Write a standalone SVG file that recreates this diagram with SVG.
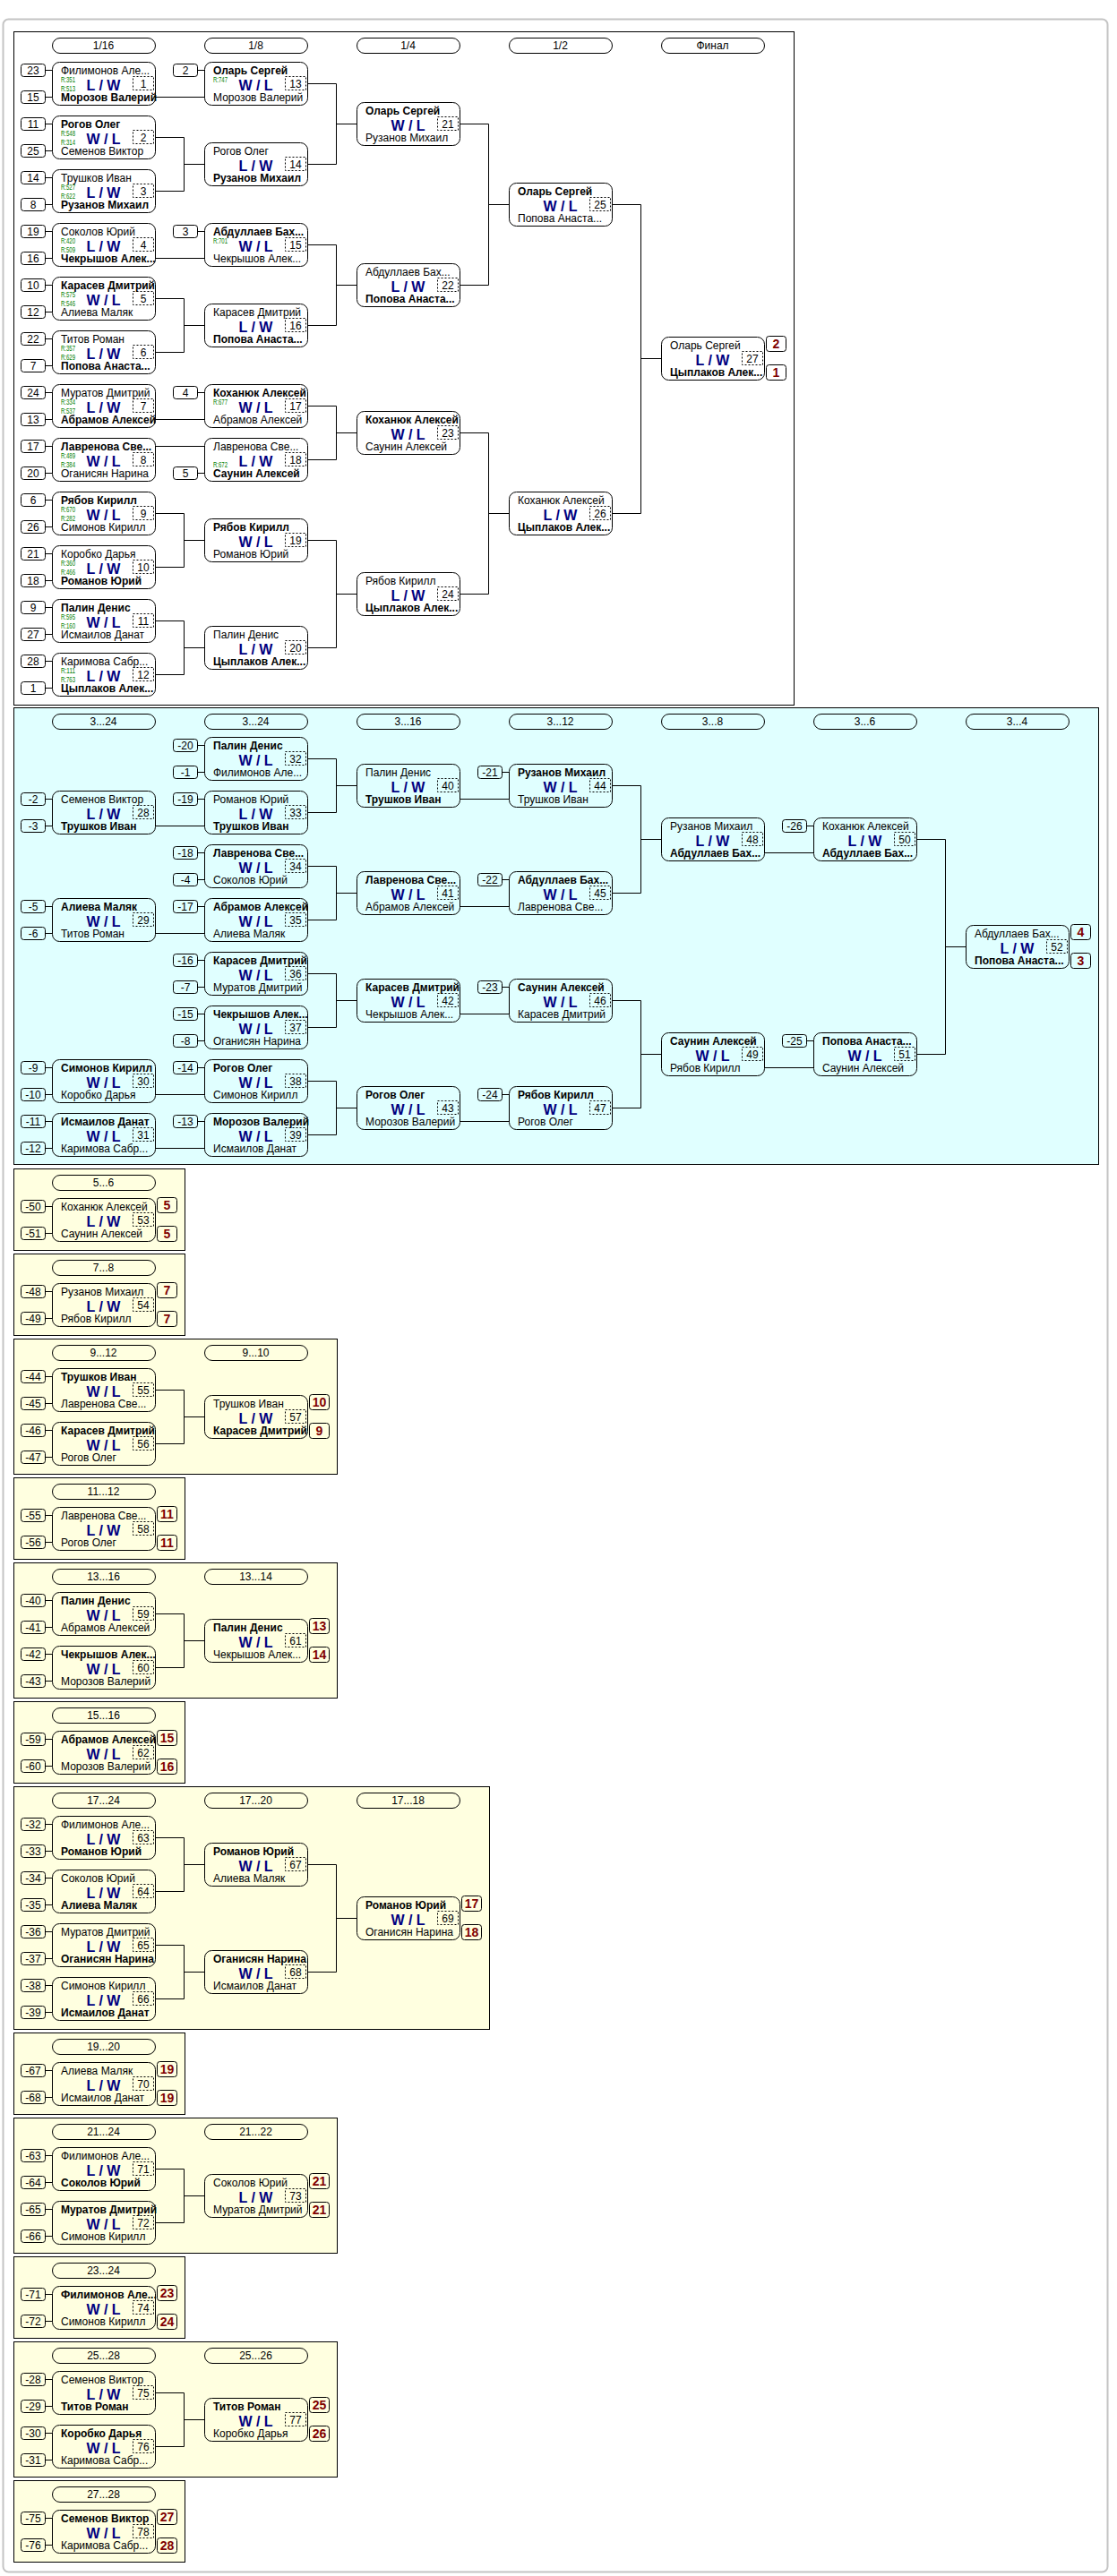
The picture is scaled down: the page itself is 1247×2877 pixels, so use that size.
<svg xmlns="http://www.w3.org/2000/svg" width="1247" height="2877" viewBox="0 0 1247 2877">
<style>
text{font-family:"Liberation Sans",Arial,sans-serif;font-size:12px;fill:#000}
.b{font-weight:bold}
.c{text-anchor:middle}
.wl{font-size:16px;font-weight:bold;fill:#000080;text-anchor:middle}
.r{font-size:9.5px;fill:#008000}
.p{font-size:14px;font-weight:bold;fill:#800000;text-anchor:middle}
.ln{fill:none;stroke:#000;stroke-width:1}
</style>
<defs>
<rect id="box" x="0.5" y="0.5" width="115" height="48" rx="8" fill="none" stroke="#000"/>
<rect id="db" x="90.5" y="16.5" width="23" height="15" fill="none" stroke="#000" stroke-dasharray="2,2"/>
<g id="sd"><rect x="-34.5" y="2.5" width="27" height="14" rx="3" fill="none" stroke="#000"/><path d="M-7.5 9.5H0.5" stroke="#000"/></g>
<rect id="pl" x="117.5" y="-0.5" width="22" height="17" rx="3" fill="none" stroke="#000"/>
<rect id="pill" x="0.5" y="0.5" width="115" height="17" rx="8.5" fill="none" stroke="#000"/>
</defs>
<rect width="1247" height="2877" fill="#fff"/>
<rect x="3.5" y="21.5" width="1233" height="2851" rx="6" fill="#fff" stroke="#c4c4c4" stroke-width="2"/>
<g id="sections">
<rect x="15.5" y="35.5" width="871" height="752" fill="#fff" stroke="#000"/>
<rect x="15.5" y="790.5" width="1211" height="510" fill="#E0FFFF" stroke="#000"/>
<rect x="15.5" y="1305.5" width="191" height="91" fill="#FFFFE0" stroke="#000"/>
<rect x="15.5" y="1400.5" width="191" height="91" fill="#FFFFE0" stroke="#000"/>
<rect x="15.5" y="1495.5" width="361" height="151" fill="#FFFFE0" stroke="#000"/>
<rect x="15.5" y="1650.5" width="191" height="91" fill="#FFFFE0" stroke="#000"/>
<rect x="15.5" y="1745.5" width="361" height="151" fill="#FFFFE0" stroke="#000"/>
<rect x="15.5" y="1900.5" width="191" height="91" fill="#FFFFE0" stroke="#000"/>
<rect x="15.5" y="1995.5" width="531" height="271" fill="#FFFFE0" stroke="#000"/>
<rect x="15.5" y="2270.5" width="191" height="91" fill="#FFFFE0" stroke="#000"/>
<rect x="15.5" y="2365.5" width="361" height="151" fill="#FFFFE0" stroke="#000"/>
<rect x="15.5" y="2520.5" width="191" height="91" fill="#FFFFE0" stroke="#000"/>
<rect x="15.5" y="2615.5" width="361" height="151" fill="#FFFFE0" stroke="#000"/>
<rect x="15.5" y="2770.5" width="191" height="91" fill="#FFFFE0" stroke="#000"/>
</g>
<g id="headers">
<use href="#pill" x="58" y="42"/><text class="c" x="115.5" y="55">1/16</text>
<use href="#pill" x="228" y="42"/><text class="c" x="285.5" y="55">1/8</text>
<use href="#pill" x="398" y="42"/><text class="c" x="455.5" y="55">1/4</text>
<use href="#pill" x="568" y="42"/><text class="c" x="625.5" y="55">1/2</text>
<use href="#pill" x="738" y="42"/><text class="c" x="795.5" y="55">Финал</text>
<use href="#pill" x="58" y="797"/><text class="c" x="115.5" y="810">3...24</text>
<use href="#pill" x="228" y="797"/><text class="c" x="285.5" y="810">3...24</text>
<use href="#pill" x="398" y="797"/><text class="c" x="455.5" y="810">3...16</text>
<use href="#pill" x="568" y="797"/><text class="c" x="625.5" y="810">3...12</text>
<use href="#pill" x="738" y="797"/><text class="c" x="795.5" y="810">3...8</text>
<use href="#pill" x="908" y="797"/><text class="c" x="965.5" y="810">3...6</text>
<use href="#pill" x="1078" y="797"/><text class="c" x="1135.5" y="810">3...4</text>
<use href="#pill" x="58" y="1312"/><text class="c" x="115.5" y="1325">5...6</text>
<use href="#pill" x="58" y="1407"/><text class="c" x="115.5" y="1420">7...8</text>
<use href="#pill" x="58" y="1502"/><text class="c" x="115.5" y="1515">9...12</text>
<use href="#pill" x="228" y="1502"/><text class="c" x="285.5" y="1515">9...10</text>
<use href="#pill" x="58" y="1657"/><text class="c" x="115.5" y="1670">11...12</text>
<use href="#pill" x="58" y="1752"/><text class="c" x="115.5" y="1765">13...16</text>
<use href="#pill" x="228" y="1752"/><text class="c" x="285.5" y="1765">13...14</text>
<use href="#pill" x="58" y="1907"/><text class="c" x="115.5" y="1920">15...16</text>
<use href="#pill" x="58" y="2002"/><text class="c" x="115.5" y="2015">17...24</text>
<use href="#pill" x="228" y="2002"/><text class="c" x="285.5" y="2015">17...20</text>
<use href="#pill" x="398" y="2002"/><text class="c" x="455.5" y="2015">17...18</text>
<use href="#pill" x="58" y="2277"/><text class="c" x="115.5" y="2290">19...20</text>
<use href="#pill" x="58" y="2372"/><text class="c" x="115.5" y="2385">21...24</text>
<use href="#pill" x="228" y="2372"/><text class="c" x="285.5" y="2385">21...22</text>
<use href="#pill" x="58" y="2527"/><text class="c" x="115.5" y="2540">23...24</text>
<use href="#pill" x="58" y="2622"/><text class="c" x="115.5" y="2635">25...28</text>
<use href="#pill" x="228" y="2622"/><text class="c" x="285.5" y="2635">25...26</text>
<use href="#pill" x="58" y="2777"/><text class="c" x="115.5" y="2790">27...28</text>
</g>
<g id="connectors" class="ln">
<path d="M173.5 108.5H228.5"/>
<path d="M173.5 153.5H205.5V213.5H173.5M205.5 183.5H228.5"/>
<path d="M173.5 288.5H228.5"/>
<path d="M173.5 333.5H205.5V393.5H173.5M205.5 363.5H228.5"/>
<path d="M173.5 468.5H228.5"/>
<path d="M173.5 498.5H228.5"/>
<path d="M173.5 573.5H205.5V633.5H173.5M205.5 603.5H228.5"/>
<path d="M173.5 693.5H205.5V753.5H173.5M205.5 723.5H228.5"/>
<path d="M343.5 93.5H375.5V183.5H343.5M375.5 138.5H398.5"/>
<path d="M343.5 273.5H375.5V363.5H343.5M375.5 318.5H398.5"/>
<path d="M343.5 453.5H375.5V513.5H343.5M375.5 483.5H398.5"/>
<path d="M343.5 603.5H375.5V723.5H343.5M375.5 663.5H398.5"/>
<path d="M513.5 138.5H545.5V318.5H513.5M545.5 228.5H568.5"/>
<path d="M513.5 483.5H545.5V663.5H513.5M545.5 573.5H568.5"/>
<path d="M683.5 228.5H715.5V573.5H683.5M715.5 400.5H738.5"/>
<path d="M173.5 922.5H228.5"/>
<path d="M173.5 1042.5H228.5"/>
<path d="M173.5 1222.5H228.5"/>
<path d="M173.5 1282.5H228.5"/>
<path d="M343.5 847.5H375.5V907.5H343.5M375.5 877.5H398.5"/>
<path d="M343.5 967.5H375.5V1027.5H343.5M375.5 997.5H398.5"/>
<path d="M343.5 1087.5H375.5V1147.5H343.5M375.5 1117.5H398.5"/>
<path d="M343.5 1207.5H375.5V1267.5H343.5M375.5 1237.5H398.5"/>
<path d="M513.5 892.5H568.5"/>
<path d="M513.5 1012.5H568.5"/>
<path d="M513.5 1132.5H568.5"/>
<path d="M513.5 1252.5H568.5"/>
<path d="M683.5 877.5H715.5V997.5H683.5M715.5 937.5H738.5"/>
<path d="M683.5 1117.5H715.5V1237.5H683.5M715.5 1177.5H738.5"/>
<path d="M853.5 952.5H908.5"/>
<path d="M853.5 1192.5H908.5"/>
<path d="M1023.5 937.5H1055.5V1177.5H1023.5M1055.5 1057.5H1078.5"/>
<path d="M173.5 1552.5H205.5V1612.5H173.5M205.5 1582.5H228.5"/>
<path d="M173.5 1802.5H205.5V1862.5H173.5M205.5 1832.5H228.5"/>
<path d="M173.5 2052.5H205.5V2112.5H173.5M205.5 2082.5H228.5"/>
<path d="M173.5 2172.5H205.5V2232.5H173.5M205.5 2202.5H228.5"/>
<path d="M343.5 2082.5H375.5V2202.5H343.5M375.5 2142.5H398.5"/>
<path d="M173.5 2422.5H205.5V2482.5H173.5M205.5 2452.5H228.5"/>
<path d="M173.5 2672.5H205.5V2732.5H173.5M205.5 2702.5H228.5"/>
</g>
<g id="nodes">
<g id="m1" transform="translate(58,69)"><use href="#box"/><use href="#db"/><use href="#sd"/><use href="#sd" y="30"/><text class="c" x="-21" y="14">23</text><text class="c" x="-21" y="44">15</text><text x="10" y="14">Филимонов Але...</text><text class="b" x="10" y="44">Морозов Валерий</text><text class="r" x="10" y="23" textLength="16" lengthAdjust="spacingAndGlyphs">R:351</text><text class="r" x="10" y="32.5" textLength="16" lengthAdjust="spacingAndGlyphs">R:513</text><text class="wl" x="57.5" y="31.5">L / W</text><text class="c" x="102" y="28.5">1</text></g>
<g id="m2" transform="translate(58,129)"><use href="#box"/><use href="#db"/><use href="#sd"/><use href="#sd" y="30"/><text class="c" x="-21" y="14">11</text><text class="c" x="-21" y="44">25</text><text class="b" x="10" y="14">Рогов Олег</text><text x="10" y="44">Семенов Виктор</text><text class="r" x="10" y="23" textLength="16" lengthAdjust="spacingAndGlyphs">R:548</text><text class="r" x="10" y="32.5" textLength="16" lengthAdjust="spacingAndGlyphs">R:314</text><text class="wl" x="57.5" y="31.5">W / L</text><text class="c" x="102" y="28.5">2</text></g>
<g id="m3" transform="translate(58,189)"><use href="#box"/><use href="#db"/><use href="#sd"/><use href="#sd" y="30"/><text class="c" x="-21" y="14">14</text><text class="c" x="-21" y="44">8</text><text x="10" y="14">Трушков Иван</text><text class="b" x="10" y="44">Рузанов Михаил</text><text class="r" x="10" y="23" textLength="16" lengthAdjust="spacingAndGlyphs">R:527</text><text class="r" x="10" y="32.5" textLength="16" lengthAdjust="spacingAndGlyphs">R:622</text><text class="wl" x="57.5" y="31.5">L / W</text><text class="c" x="102" y="28.5">3</text></g>
<g id="m4" transform="translate(58,249)"><use href="#box"/><use href="#db"/><use href="#sd"/><use href="#sd" y="30"/><text class="c" x="-21" y="14">19</text><text class="c" x="-21" y="44">16</text><text x="10" y="14">Соколов Юрий</text><text class="b" x="10" y="44">Чекрышов Алек...</text><text class="r" x="10" y="23" textLength="16" lengthAdjust="spacingAndGlyphs">R:420</text><text class="r" x="10" y="32.5" textLength="16" lengthAdjust="spacingAndGlyphs">R:509</text><text class="wl" x="57.5" y="31.5">L / W</text><text class="c" x="102" y="28.5">4</text></g>
<g id="m5" transform="translate(58,309)"><use href="#box"/><use href="#db"/><use href="#sd"/><use href="#sd" y="30"/><text class="c" x="-21" y="14">10</text><text class="c" x="-21" y="44">12</text><text class="b" x="10" y="14">Карасев Дмитрий</text><text x="10" y="44">Алиева Маляк</text><text class="r" x="10" y="23" textLength="16" lengthAdjust="spacingAndGlyphs">R:575</text><text class="r" x="10" y="32.5" textLength="16" lengthAdjust="spacingAndGlyphs">R:546</text><text class="wl" x="57.5" y="31.5">W / L</text><text class="c" x="102" y="28.5">5</text></g>
<g id="m6" transform="translate(58,369)"><use href="#box"/><use href="#db"/><use href="#sd"/><use href="#sd" y="30"/><text class="c" x="-21" y="14">22</text><text class="c" x="-21" y="44">7</text><text x="10" y="14">Титов Роман</text><text class="b" x="10" y="44">Попова Анаста...</text><text class="r" x="10" y="23" textLength="16" lengthAdjust="spacingAndGlyphs">R:357</text><text class="r" x="10" y="32.5" textLength="16" lengthAdjust="spacingAndGlyphs">R:629</text><text class="wl" x="57.5" y="31.5">L / W</text><text class="c" x="102" y="28.5">6</text></g>
<g id="m7" transform="translate(58,429)"><use href="#box"/><use href="#db"/><use href="#sd"/><use href="#sd" y="30"/><text class="c" x="-21" y="14">24</text><text class="c" x="-21" y="44">13</text><text x="10" y="14">Муратов Дмитрий</text><text class="b" x="10" y="44">Абрамов Алексей</text><text class="r" x="10" y="23" textLength="16" lengthAdjust="spacingAndGlyphs">R:334</text><text class="r" x="10" y="32.5" textLength="16" lengthAdjust="spacingAndGlyphs">R:537</text><text class="wl" x="57.5" y="31.5">L / W</text><text class="c" x="102" y="28.5">7</text></g>
<g id="m8" transform="translate(58,489)"><use href="#box"/><use href="#db"/><use href="#sd"/><use href="#sd" y="30"/><text class="c" x="-21" y="14">17</text><text class="c" x="-21" y="44">20</text><text class="b" x="10" y="14">Лавренова Све...</text><text x="10" y="44">Оганисян Нарина</text><text class="r" x="10" y="23" textLength="16" lengthAdjust="spacingAndGlyphs">R:489</text><text class="r" x="10" y="32.5" textLength="16" lengthAdjust="spacingAndGlyphs">R:384</text><text class="wl" x="57.5" y="31.5">W / L</text><text class="c" x="102" y="28.5">8</text></g>
<g id="m9" transform="translate(58,549)"><use href="#box"/><use href="#db"/><use href="#sd"/><use href="#sd" y="30"/><text class="c" x="-21" y="14">6</text><text class="c" x="-21" y="44">26</text><text class="b" x="10" y="14">Рябов Кирилл</text><text x="10" y="44">Симонов Кирилл</text><text class="r" x="10" y="23" textLength="16" lengthAdjust="spacingAndGlyphs">R:670</text><text class="r" x="10" y="32.5" textLength="16" lengthAdjust="spacingAndGlyphs">R:282</text><text class="wl" x="57.5" y="31.5">W / L</text><text class="c" x="102" y="28.5">9</text></g>
<g id="m10" transform="translate(58,609)"><use href="#box"/><use href="#db"/><use href="#sd"/><use href="#sd" y="30"/><text class="c" x="-21" y="14">21</text><text class="c" x="-21" y="44">18</text><text x="10" y="14">Коробко Дарья</text><text class="b" x="10" y="44">Романов Юрий</text><text class="r" x="10" y="23" textLength="16" lengthAdjust="spacingAndGlyphs">R:360</text><text class="r" x="10" y="32.5" textLength="16" lengthAdjust="spacingAndGlyphs">R:466</text><text class="wl" x="57.5" y="31.5">L / W</text><text class="c" x="102" y="28.5">10</text></g>
<g id="m11" transform="translate(58,669)"><use href="#box"/><use href="#db"/><use href="#sd"/><use href="#sd" y="30"/><text class="c" x="-21" y="14">9</text><text class="c" x="-21" y="44">27</text><text class="b" x="10" y="14">Палин Денис</text><text x="10" y="44">Исмаилов Данат</text><text class="r" x="10" y="23" textLength="16" lengthAdjust="spacingAndGlyphs">R:595</text><text class="r" x="10" y="32.5" textLength="16" lengthAdjust="spacingAndGlyphs">R:160</text><text class="wl" x="57.5" y="31.5">W / L</text><text class="c" x="102" y="28.5">11</text></g>
<g id="m12" transform="translate(58,729)"><use href="#box"/><use href="#db"/><use href="#sd"/><use href="#sd" y="30"/><text class="c" x="-21" y="14">28</text><text class="c" x="-21" y="44">1</text><text x="10" y="14">Каримова Сабр...</text><text class="b" x="10" y="44">Цыплаков Алек...</text><text class="r" x="10" y="23" textLength="16" lengthAdjust="spacingAndGlyphs">R:111</text><text class="r" x="10" y="32.5" textLength="16" lengthAdjust="spacingAndGlyphs">R:763</text><text class="wl" x="57.5" y="31.5">L / W</text><text class="c" x="102" y="28.5">12</text></g>
<g id="m13" transform="translate(228,69)"><use href="#box"/><use href="#db"/><use href="#sd"/><text class="c" x="-21" y="14">2</text><text class="b" x="10" y="14">Оларь Сергей</text><text x="10" y="44">Морозов Валерий</text><text class="r" x="10" y="23" textLength="16" lengthAdjust="spacingAndGlyphs">R:747</text><text class="wl" x="57.5" y="31.5">W / L</text><text class="c" x="102" y="28.5">13</text></g>
<g id="m14" transform="translate(228,159)"><use href="#box"/><use href="#db"/><text x="10" y="14">Рогов Олег</text><text class="b" x="10" y="44">Рузанов Михаил</text><text class="wl" x="57.5" y="31.5">L / W</text><text class="c" x="102" y="28.5">14</text></g>
<g id="m15" transform="translate(228,249)"><use href="#box"/><use href="#db"/><use href="#sd"/><text class="c" x="-21" y="14">3</text><text class="b" x="10" y="14">Абдуллаев Бах...</text><text x="10" y="44">Чекрышов Алек...</text><text class="r" x="10" y="23" textLength="16" lengthAdjust="spacingAndGlyphs">R:701</text><text class="wl" x="57.5" y="31.5">W / L</text><text class="c" x="102" y="28.5">15</text></g>
<g id="m16" transform="translate(228,339)"><use href="#box"/><use href="#db"/><text x="10" y="14">Карасев Дмитрий</text><text class="b" x="10" y="44">Попова Анаста...</text><text class="wl" x="57.5" y="31.5">L / W</text><text class="c" x="102" y="28.5">16</text></g>
<g id="m17" transform="translate(228,429)"><use href="#box"/><use href="#db"/><use href="#sd"/><text class="c" x="-21" y="14">4</text><text class="b" x="10" y="14">Коханюк Алексей</text><text x="10" y="44">Абрамов Алексей</text><text class="r" x="10" y="23" textLength="16" lengthAdjust="spacingAndGlyphs">R:677</text><text class="wl" x="57.5" y="31.5">W / L</text><text class="c" x="102" y="28.5">17</text></g>
<g id="m18" transform="translate(228,489)"><use href="#box"/><use href="#db"/><use href="#sd" y="30"/><text class="c" x="-21" y="44">5</text><text x="10" y="14">Лавренова Све...</text><text class="b" x="10" y="44">Саунин Алексей</text><text class="r" x="10" y="32.5" textLength="16" lengthAdjust="spacingAndGlyphs">R:672</text><text class="wl" x="57.5" y="31.5">L / W</text><text class="c" x="102" y="28.5">18</text></g>
<g id="m19" transform="translate(228,579)"><use href="#box"/><use href="#db"/><text class="b" x="10" y="14">Рябов Кирилл</text><text x="10" y="44">Романов Юрий</text><text class="wl" x="57.5" y="31.5">W / L</text><text class="c" x="102" y="28.5">19</text></g>
<g id="m20" transform="translate(228,699)"><use href="#box"/><use href="#db"/><text x="10" y="14">Палин Денис</text><text class="b" x="10" y="44">Цыплаков Алек...</text><text class="wl" x="57.5" y="31.5">L / W</text><text class="c" x="102" y="28.5">20</text></g>
<g id="m21" transform="translate(398,114)"><use href="#box"/><use href="#db"/><text class="b" x="10" y="14">Оларь Сергей</text><text x="10" y="44">Рузанов Михаил</text><text class="wl" x="57.5" y="31.5">W / L</text><text class="c" x="102" y="28.5">21</text></g>
<g id="m22" transform="translate(398,294)"><use href="#box"/><use href="#db"/><text x="10" y="14">Абдуллаев Бах...</text><text class="b" x="10" y="44">Попова Анаста...</text><text class="wl" x="57.5" y="31.5">L / W</text><text class="c" x="102" y="28.5">22</text></g>
<g id="m23" transform="translate(398,459)"><use href="#box"/><use href="#db"/><text class="b" x="10" y="14">Коханюк Алексей</text><text x="10" y="44">Саунин Алексей</text><text class="wl" x="57.5" y="31.5">W / L</text><text class="c" x="102" y="28.5">23</text></g>
<g id="m24" transform="translate(398,639)"><use href="#box"/><use href="#db"/><text x="10" y="14">Рябов Кирилл</text><text class="b" x="10" y="44">Цыплаков Алек...</text><text class="wl" x="57.5" y="31.5">L / W</text><text class="c" x="102" y="28.5">24</text></g>
<g id="m25" transform="translate(568,204)"><use href="#box"/><use href="#db"/><text class="b" x="10" y="14">Оларь Сергей</text><text x="10" y="44">Попова Анаста...</text><text class="wl" x="57.5" y="31.5">W / L</text><text class="c" x="102" y="28.5">25</text></g>
<g id="m26" transform="translate(568,549)"><use href="#box"/><use href="#db"/><text x="10" y="14">Коханюк Алексей</text><text class="b" x="10" y="44">Цыплаков Алек...</text><text class="wl" x="57.5" y="31.5">L / W</text><text class="c" x="102" y="28.5">26</text></g>
<g id="m27" transform="translate(738,376)"><use href="#box"/><use href="#db"/><text x="10" y="14">Оларь Сергей</text><text class="b" x="10" y="44">Цыплаков Алек...</text><text class="wl" x="57.5" y="31.5">L / W</text><text class="c" x="102" y="28.5">27</text><use href="#pl"/><use href="#pl" y="32"/><text class="p" x="128.5" y="13">2</text><text class="p" x="128.5" y="45">1</text></g>
<g id="m28" transform="translate(58,883)"><use href="#box"/><use href="#db"/><use href="#sd"/><use href="#sd" y="30"/><text class="c" x="-21" y="14">-2</text><text class="c" x="-21" y="44">-3</text><text x="10" y="14">Семенов Виктор</text><text class="b" x="10" y="44">Трушков Иван</text><text class="wl" x="57.5" y="31.5">L / W</text><text class="c" x="102" y="28.5">28</text></g>
<g id="m29" transform="translate(58,1003)"><use href="#box"/><use href="#db"/><use href="#sd"/><use href="#sd" y="30"/><text class="c" x="-21" y="14">-5</text><text class="c" x="-21" y="44">-6</text><text class="b" x="10" y="14">Алиева Маляк</text><text x="10" y="44">Титов Роман</text><text class="wl" x="57.5" y="31.5">W / L</text><text class="c" x="102" y="28.5">29</text></g>
<g id="m30" transform="translate(58,1183)"><use href="#box"/><use href="#db"/><use href="#sd"/><use href="#sd" y="30"/><text class="c" x="-21" y="14">-9</text><text class="c" x="-21" y="44">-10</text><text class="b" x="10" y="14">Симонов Кирилл</text><text x="10" y="44">Коробко Дарья</text><text class="wl" x="57.5" y="31.5">W / L</text><text class="c" x="102" y="28.5">30</text></g>
<g id="m31" transform="translate(58,1243)"><use href="#box"/><use href="#db"/><use href="#sd"/><use href="#sd" y="30"/><text class="c" x="-21" y="14">-11</text><text class="c" x="-21" y="44">-12</text><text class="b" x="10" y="14">Исмаилов Данат</text><text x="10" y="44">Каримова Сабр...</text><text class="wl" x="57.5" y="31.5">W / L</text><text class="c" x="102" y="28.5">31</text></g>
<g id="m32" transform="translate(228,823)"><use href="#box"/><use href="#db"/><use href="#sd"/><use href="#sd" y="30"/><text class="c" x="-21" y="14">-20</text><text class="c" x="-21" y="44">-1</text><text class="b" x="10" y="14">Палин Денис</text><text x="10" y="44">Филимонов Але...</text><text class="wl" x="57.5" y="31.5">W / L</text><text class="c" x="102" y="28.5">32</text></g>
<g id="m33" transform="translate(228,883)"><use href="#box"/><use href="#db"/><use href="#sd"/><text class="c" x="-21" y="14">-19</text><text x="10" y="14">Романов Юрий</text><text class="b" x="10" y="44">Трушков Иван</text><text class="wl" x="57.5" y="31.5">L / W</text><text class="c" x="102" y="28.5">33</text></g>
<g id="m34" transform="translate(228,943)"><use href="#box"/><use href="#db"/><use href="#sd"/><use href="#sd" y="30"/><text class="c" x="-21" y="14">-18</text><text class="c" x="-21" y="44">-4</text><text class="b" x="10" y="14">Лавренова Све...</text><text x="10" y="44">Соколов Юрий</text><text class="wl" x="57.5" y="31.5">W / L</text><text class="c" x="102" y="28.5">34</text></g>
<g id="m35" transform="translate(228,1003)"><use href="#box"/><use href="#db"/><use href="#sd"/><text class="c" x="-21" y="14">-17</text><text class="b" x="10" y="14">Абрамов Алексей</text><text x="10" y="44">Алиева Маляк</text><text class="wl" x="57.5" y="31.5">W / L</text><text class="c" x="102" y="28.5">35</text></g>
<g id="m36" transform="translate(228,1063)"><use href="#box"/><use href="#db"/><use href="#sd"/><use href="#sd" y="30"/><text class="c" x="-21" y="14">-16</text><text class="c" x="-21" y="44">-7</text><text class="b" x="10" y="14">Карасев Дмитрий</text><text x="10" y="44">Муратов Дмитрий</text><text class="wl" x="57.5" y="31.5">W / L</text><text class="c" x="102" y="28.5">36</text></g>
<g id="m37" transform="translate(228,1123)"><use href="#box"/><use href="#db"/><use href="#sd"/><use href="#sd" y="30"/><text class="c" x="-21" y="14">-15</text><text class="c" x="-21" y="44">-8</text><text class="b" x="10" y="14">Чекрышов Алек...</text><text x="10" y="44">Оганисян Нарина</text><text class="wl" x="57.5" y="31.5">W / L</text><text class="c" x="102" y="28.5">37</text></g>
<g id="m38" transform="translate(228,1183)"><use href="#box"/><use href="#db"/><use href="#sd"/><text class="c" x="-21" y="14">-14</text><text class="b" x="10" y="14">Рогов Олег</text><text x="10" y="44">Симонов Кирилл</text><text class="wl" x="57.5" y="31.5">W / L</text><text class="c" x="102" y="28.5">38</text></g>
<g id="m39" transform="translate(228,1243)"><use href="#box"/><use href="#db"/><use href="#sd"/><text class="c" x="-21" y="14">-13</text><text class="b" x="10" y="14">Морозов Валерий</text><text x="10" y="44">Исмаилов Данат</text><text class="wl" x="57.5" y="31.5">W / L</text><text class="c" x="102" y="28.5">39</text></g>
<g id="m40" transform="translate(398,853)"><use href="#box"/><use href="#db"/><text x="10" y="14">Палин Денис</text><text class="b" x="10" y="44">Трушков Иван</text><text class="wl" x="57.5" y="31.5">L / W</text><text class="c" x="102" y="28.5">40</text></g>
<g id="m41" transform="translate(398,973)"><use href="#box"/><use href="#db"/><text class="b" x="10" y="14">Лавренова Све...</text><text x="10" y="44">Абрамов Алексей</text><text class="wl" x="57.5" y="31.5">W / L</text><text class="c" x="102" y="28.5">41</text></g>
<g id="m42" transform="translate(398,1093)"><use href="#box"/><use href="#db"/><text class="b" x="10" y="14">Карасев Дмитрий</text><text x="10" y="44">Чекрышов Алек...</text><text class="wl" x="57.5" y="31.5">W / L</text><text class="c" x="102" y="28.5">42</text></g>
<g id="m43" transform="translate(398,1213)"><use href="#box"/><use href="#db"/><text class="b" x="10" y="14">Рогов Олег</text><text x="10" y="44">Морозов Валерий</text><text class="wl" x="57.5" y="31.5">W / L</text><text class="c" x="102" y="28.5">43</text></g>
<g id="m44" transform="translate(568,853)"><use href="#box"/><use href="#db"/><use href="#sd"/><text class="c" x="-21" y="14">-21</text><text class="b" x="10" y="14">Рузанов Михаил</text><text x="10" y="44">Трушков Иван</text><text class="wl" x="57.5" y="31.5">W / L</text><text class="c" x="102" y="28.5">44</text></g>
<g id="m45" transform="translate(568,973)"><use href="#box"/><use href="#db"/><use href="#sd"/><text class="c" x="-21" y="14">-22</text><text class="b" x="10" y="14">Абдуллаев Бах...</text><text x="10" y="44">Лавренова Све...</text><text class="wl" x="57.5" y="31.5">W / L</text><text class="c" x="102" y="28.5">45</text></g>
<g id="m46" transform="translate(568,1093)"><use href="#box"/><use href="#db"/><use href="#sd"/><text class="c" x="-21" y="14">-23</text><text class="b" x="10" y="14">Саунин Алексей</text><text x="10" y="44">Карасев Дмитрий</text><text class="wl" x="57.5" y="31.5">W / L</text><text class="c" x="102" y="28.5">46</text></g>
<g id="m47" transform="translate(568,1213)"><use href="#box"/><use href="#db"/><use href="#sd"/><text class="c" x="-21" y="14">-24</text><text class="b" x="10" y="14">Рябов Кирилл</text><text x="10" y="44">Рогов Олег</text><text class="wl" x="57.5" y="31.5">W / L</text><text class="c" x="102" y="28.5">47</text></g>
<g id="m48" transform="translate(738,913)"><use href="#box"/><use href="#db"/><text x="10" y="14">Рузанов Михаил</text><text class="b" x="10" y="44">Абдуллаев Бах...</text><text class="wl" x="57.5" y="31.5">L / W</text><text class="c" x="102" y="28.5">48</text></g>
<g id="m49" transform="translate(738,1153)"><use href="#box"/><use href="#db"/><text class="b" x="10" y="14">Саунин Алексей</text><text x="10" y="44">Рябов Кирилл</text><text class="wl" x="57.5" y="31.5">W / L</text><text class="c" x="102" y="28.5">49</text></g>
<g id="m50" transform="translate(908,913)"><use href="#box"/><use href="#db"/><use href="#sd"/><text class="c" x="-21" y="14">-26</text><text x="10" y="14">Коханюк Алексей</text><text class="b" x="10" y="44">Абдуллаев Бах...</text><text class="wl" x="57.5" y="31.5">L / W</text><text class="c" x="102" y="28.5">50</text></g>
<g id="m51" transform="translate(908,1153)"><use href="#box"/><use href="#db"/><use href="#sd"/><text class="c" x="-21" y="14">-25</text><text class="b" x="10" y="14">Попова Анаста...</text><text x="10" y="44">Саунин Алексей</text><text class="wl" x="57.5" y="31.5">W / L</text><text class="c" x="102" y="28.5">51</text></g>
<g id="m52" transform="translate(1078,1033)"><use href="#box"/><use href="#db"/><text x="10" y="14">Абдуллаев Бах...</text><text class="b" x="10" y="44">Попова Анаста...</text><text class="wl" x="57.5" y="31.5">L / W</text><text class="c" x="102" y="28.5">52</text><use href="#pl"/><use href="#pl" y="32"/><text class="p" x="128.5" y="13">4</text><text class="p" x="128.5" y="45">3</text></g>
<g id="m53" transform="translate(58,1338)"><use href="#box"/><use href="#db"/><use href="#sd"/><use href="#sd" y="30"/><text class="c" x="-21" y="14">-50</text><text class="c" x="-21" y="44">-51</text><text x="10" y="14">Коханюк Алексей</text><text x="10" y="44">Саунин Алексей</text><text class="wl" x="57.5" y="31.5">L / W</text><text class="c" x="102" y="28.5">53</text><use href="#pl"/><use href="#pl" y="32"/><text class="p" x="128.5" y="13">5</text><text class="p" x="128.5" y="45">5</text></g>
<g id="m54" transform="translate(58,1433)"><use href="#box"/><use href="#db"/><use href="#sd"/><use href="#sd" y="30"/><text class="c" x="-21" y="14">-48</text><text class="c" x="-21" y="44">-49</text><text x="10" y="14">Рузанов Михаил</text><text x="10" y="44">Рябов Кирилл</text><text class="wl" x="57.5" y="31.5">L / W</text><text class="c" x="102" y="28.5">54</text><use href="#pl"/><use href="#pl" y="32"/><text class="p" x="128.5" y="13">7</text><text class="p" x="128.5" y="45">7</text></g>
<g id="m55" transform="translate(58,1528)"><use href="#box"/><use href="#db"/><use href="#sd"/><use href="#sd" y="30"/><text class="c" x="-21" y="14">-44</text><text class="c" x="-21" y="44">-45</text><text class="b" x="10" y="14">Трушков Иван</text><text x="10" y="44">Лавренова Све...</text><text class="wl" x="57.5" y="31.5">W / L</text><text class="c" x="102" y="28.5">55</text></g>
<g id="m56" transform="translate(58,1588)"><use href="#box"/><use href="#db"/><use href="#sd"/><use href="#sd" y="30"/><text class="c" x="-21" y="14">-46</text><text class="c" x="-21" y="44">-47</text><text class="b" x="10" y="14">Карасев Дмитрий</text><text x="10" y="44">Рогов Олег</text><text class="wl" x="57.5" y="31.5">W / L</text><text class="c" x="102" y="28.5">56</text></g>
<g id="m57" transform="translate(228,1558)"><use href="#box"/><use href="#db"/><text x="10" y="14">Трушков Иван</text><text class="b" x="10" y="44">Карасев Дмитрий</text><text class="wl" x="57.5" y="31.5">L / W</text><text class="c" x="102" y="28.5">57</text><use href="#pl"/><use href="#pl" y="32"/><text class="p" x="128.5" y="13">10</text><text class="p" x="128.5" y="45">9</text></g>
<g id="m58" transform="translate(58,1683)"><use href="#box"/><use href="#db"/><use href="#sd"/><use href="#sd" y="30"/><text class="c" x="-21" y="14">-55</text><text class="c" x="-21" y="44">-56</text><text x="10" y="14">Лавренова Све...</text><text x="10" y="44">Рогов Олег</text><text class="wl" x="57.5" y="31.5">L / W</text><text class="c" x="102" y="28.5">58</text><use href="#pl"/><use href="#pl" y="32"/><text class="p" x="128.5" y="13">11</text><text class="p" x="128.5" y="45">11</text></g>
<g id="m59" transform="translate(58,1778)"><use href="#box"/><use href="#db"/><use href="#sd"/><use href="#sd" y="30"/><text class="c" x="-21" y="14">-40</text><text class="c" x="-21" y="44">-41</text><text class="b" x="10" y="14">Палин Денис</text><text x="10" y="44">Абрамов Алексей</text><text class="wl" x="57.5" y="31.5">W / L</text><text class="c" x="102" y="28.5">59</text></g>
<g id="m60" transform="translate(58,1838)"><use href="#box"/><use href="#db"/><use href="#sd"/><use href="#sd" y="30"/><text class="c" x="-21" y="14">-42</text><text class="c" x="-21" y="44">-43</text><text class="b" x="10" y="14">Чекрышов Алек...</text><text x="10" y="44">Морозов Валерий</text><text class="wl" x="57.5" y="31.5">W / L</text><text class="c" x="102" y="28.5">60</text></g>
<g id="m61" transform="translate(228,1808)"><use href="#box"/><use href="#db"/><text class="b" x="10" y="14">Палин Денис</text><text x="10" y="44">Чекрышов Алек...</text><text class="wl" x="57.5" y="31.5">W / L</text><text class="c" x="102" y="28.5">61</text><use href="#pl"/><use href="#pl" y="32"/><text class="p" x="128.5" y="13">13</text><text class="p" x="128.5" y="45">14</text></g>
<g id="m62" transform="translate(58,1933)"><use href="#box"/><use href="#db"/><use href="#sd"/><use href="#sd" y="30"/><text class="c" x="-21" y="14">-59</text><text class="c" x="-21" y="44">-60</text><text class="b" x="10" y="14">Абрамов Алексей</text><text x="10" y="44">Морозов Валерий</text><text class="wl" x="57.5" y="31.5">W / L</text><text class="c" x="102" y="28.5">62</text><use href="#pl"/><use href="#pl" y="32"/><text class="p" x="128.5" y="13">15</text><text class="p" x="128.5" y="45">16</text></g>
<g id="m63" transform="translate(58,2028)"><use href="#box"/><use href="#db"/><use href="#sd"/><use href="#sd" y="30"/><text class="c" x="-21" y="14">-32</text><text class="c" x="-21" y="44">-33</text><text x="10" y="14">Филимонов Але...</text><text class="b" x="10" y="44">Романов Юрий</text><text class="wl" x="57.5" y="31.5">L / W</text><text class="c" x="102" y="28.5">63</text></g>
<g id="m64" transform="translate(58,2088)"><use href="#box"/><use href="#db"/><use href="#sd"/><use href="#sd" y="30"/><text class="c" x="-21" y="14">-34</text><text class="c" x="-21" y="44">-35</text><text x="10" y="14">Соколов Юрий</text><text class="b" x="10" y="44">Алиева Маляк</text><text class="wl" x="57.5" y="31.5">L / W</text><text class="c" x="102" y="28.5">64</text></g>
<g id="m65" transform="translate(58,2148)"><use href="#box"/><use href="#db"/><use href="#sd"/><use href="#sd" y="30"/><text class="c" x="-21" y="14">-36</text><text class="c" x="-21" y="44">-37</text><text x="10" y="14">Муратов Дмитрий</text><text class="b" x="10" y="44">Оганисян Нарина</text><text class="wl" x="57.5" y="31.5">L / W</text><text class="c" x="102" y="28.5">65</text></g>
<g id="m66" transform="translate(58,2208)"><use href="#box"/><use href="#db"/><use href="#sd"/><use href="#sd" y="30"/><text class="c" x="-21" y="14">-38</text><text class="c" x="-21" y="44">-39</text><text x="10" y="14">Симонов Кирилл</text><text class="b" x="10" y="44">Исмаилов Данат</text><text class="wl" x="57.5" y="31.5">L / W</text><text class="c" x="102" y="28.5">66</text></g>
<g id="m67" transform="translate(228,2058)"><use href="#box"/><use href="#db"/><text class="b" x="10" y="14">Романов Юрий</text><text x="10" y="44">Алиева Маляк</text><text class="wl" x="57.5" y="31.5">W / L</text><text class="c" x="102" y="28.5">67</text></g>
<g id="m68" transform="translate(228,2178)"><use href="#box"/><use href="#db"/><text class="b" x="10" y="14">Оганисян Нарина</text><text x="10" y="44">Исмаилов Данат</text><text class="wl" x="57.5" y="31.5">W / L</text><text class="c" x="102" y="28.5">68</text></g>
<g id="m69" transform="translate(398,2118)"><use href="#box"/><use href="#db"/><text class="b" x="10" y="14">Романов Юрий</text><text x="10" y="44">Оганисян Нарина</text><text class="wl" x="57.5" y="31.5">W / L</text><text class="c" x="102" y="28.5">69</text><use href="#pl"/><use href="#pl" y="32"/><text class="p" x="128.5" y="13">17</text><text class="p" x="128.5" y="45">18</text></g>
<g id="m70" transform="translate(58,2303)"><use href="#box"/><use href="#db"/><use href="#sd"/><use href="#sd" y="30"/><text class="c" x="-21" y="14">-67</text><text class="c" x="-21" y="44">-68</text><text x="10" y="14">Алиева Маляк</text><text x="10" y="44">Исмаилов Данат</text><text class="wl" x="57.5" y="31.5">L / W</text><text class="c" x="102" y="28.5">70</text><use href="#pl"/><use href="#pl" y="32"/><text class="p" x="128.5" y="13">19</text><text class="p" x="128.5" y="45">19</text></g>
<g id="m71" transform="translate(58,2398)"><use href="#box"/><use href="#db"/><use href="#sd"/><use href="#sd" y="30"/><text class="c" x="-21" y="14">-63</text><text class="c" x="-21" y="44">-64</text><text x="10" y="14">Филимонов Але...</text><text class="b" x="10" y="44">Соколов Юрий</text><text class="wl" x="57.5" y="31.5">L / W</text><text class="c" x="102" y="28.5">71</text></g>
<g id="m72" transform="translate(58,2458)"><use href="#box"/><use href="#db"/><use href="#sd"/><use href="#sd" y="30"/><text class="c" x="-21" y="14">-65</text><text class="c" x="-21" y="44">-66</text><text class="b" x="10" y="14">Муратов Дмитрий</text><text x="10" y="44">Симонов Кирилл</text><text class="wl" x="57.5" y="31.5">W / L</text><text class="c" x="102" y="28.5">72</text></g>
<g id="m73" transform="translate(228,2428)"><use href="#box"/><use href="#db"/><text x="10" y="14">Соколов Юрий</text><text x="10" y="44">Муратов Дмитрий</text><text class="wl" x="57.5" y="31.5">L / W</text><text class="c" x="102" y="28.5">73</text><use href="#pl"/><use href="#pl" y="32"/><text class="p" x="128.5" y="13">21</text><text class="p" x="128.5" y="45">21</text></g>
<g id="m74" transform="translate(58,2553)"><use href="#box"/><use href="#db"/><use href="#sd"/><use href="#sd" y="30"/><text class="c" x="-21" y="14">-71</text><text class="c" x="-21" y="44">-72</text><text class="b" x="10" y="14">Филимонов Але...</text><text x="10" y="44">Симонов Кирилл</text><text class="wl" x="57.5" y="31.5">W / L</text><text class="c" x="102" y="28.5">74</text><use href="#pl"/><use href="#pl" y="32"/><text class="p" x="128.5" y="13">23</text><text class="p" x="128.5" y="45">24</text></g>
<g id="m75" transform="translate(58,2648)"><use href="#box"/><use href="#db"/><use href="#sd"/><use href="#sd" y="30"/><text class="c" x="-21" y="14">-28</text><text class="c" x="-21" y="44">-29</text><text x="10" y="14">Семенов Виктор</text><text class="b" x="10" y="44">Титов Роман</text><text class="wl" x="57.5" y="31.5">L / W</text><text class="c" x="102" y="28.5">75</text></g>
<g id="m76" transform="translate(58,2708)"><use href="#box"/><use href="#db"/><use href="#sd"/><use href="#sd" y="30"/><text class="c" x="-21" y="14">-30</text><text class="c" x="-21" y="44">-31</text><text class="b" x="10" y="14">Коробко Дарья</text><text x="10" y="44">Каримова Сабр...</text><text class="wl" x="57.5" y="31.5">W / L</text><text class="c" x="102" y="28.5">76</text></g>
<g id="m77" transform="translate(228,2678)"><use href="#box"/><use href="#db"/><text class="b" x="10" y="14">Титов Роман</text><text x="10" y="44">Коробко Дарья</text><text class="wl" x="57.5" y="31.5">W / L</text><text class="c" x="102" y="28.5">77</text><use href="#pl"/><use href="#pl" y="32"/><text class="p" x="128.5" y="13">25</text><text class="p" x="128.5" y="45">26</text></g>
<g id="m78" transform="translate(58,2803)"><use href="#box"/><use href="#db"/><use href="#sd"/><use href="#sd" y="30"/><text class="c" x="-21" y="14">-75</text><text class="c" x="-21" y="44">-76</text><text class="b" x="10" y="14">Семенов Виктор</text><text x="10" y="44">Каримова Сабр...</text><text class="wl" x="57.5" y="31.5">W / L</text><text class="c" x="102" y="28.5">78</text><use href="#pl"/><use href="#pl" y="32"/><text class="p" x="128.5" y="13">27</text><text class="p" x="128.5" y="45">28</text></g>
</g>
</svg>
